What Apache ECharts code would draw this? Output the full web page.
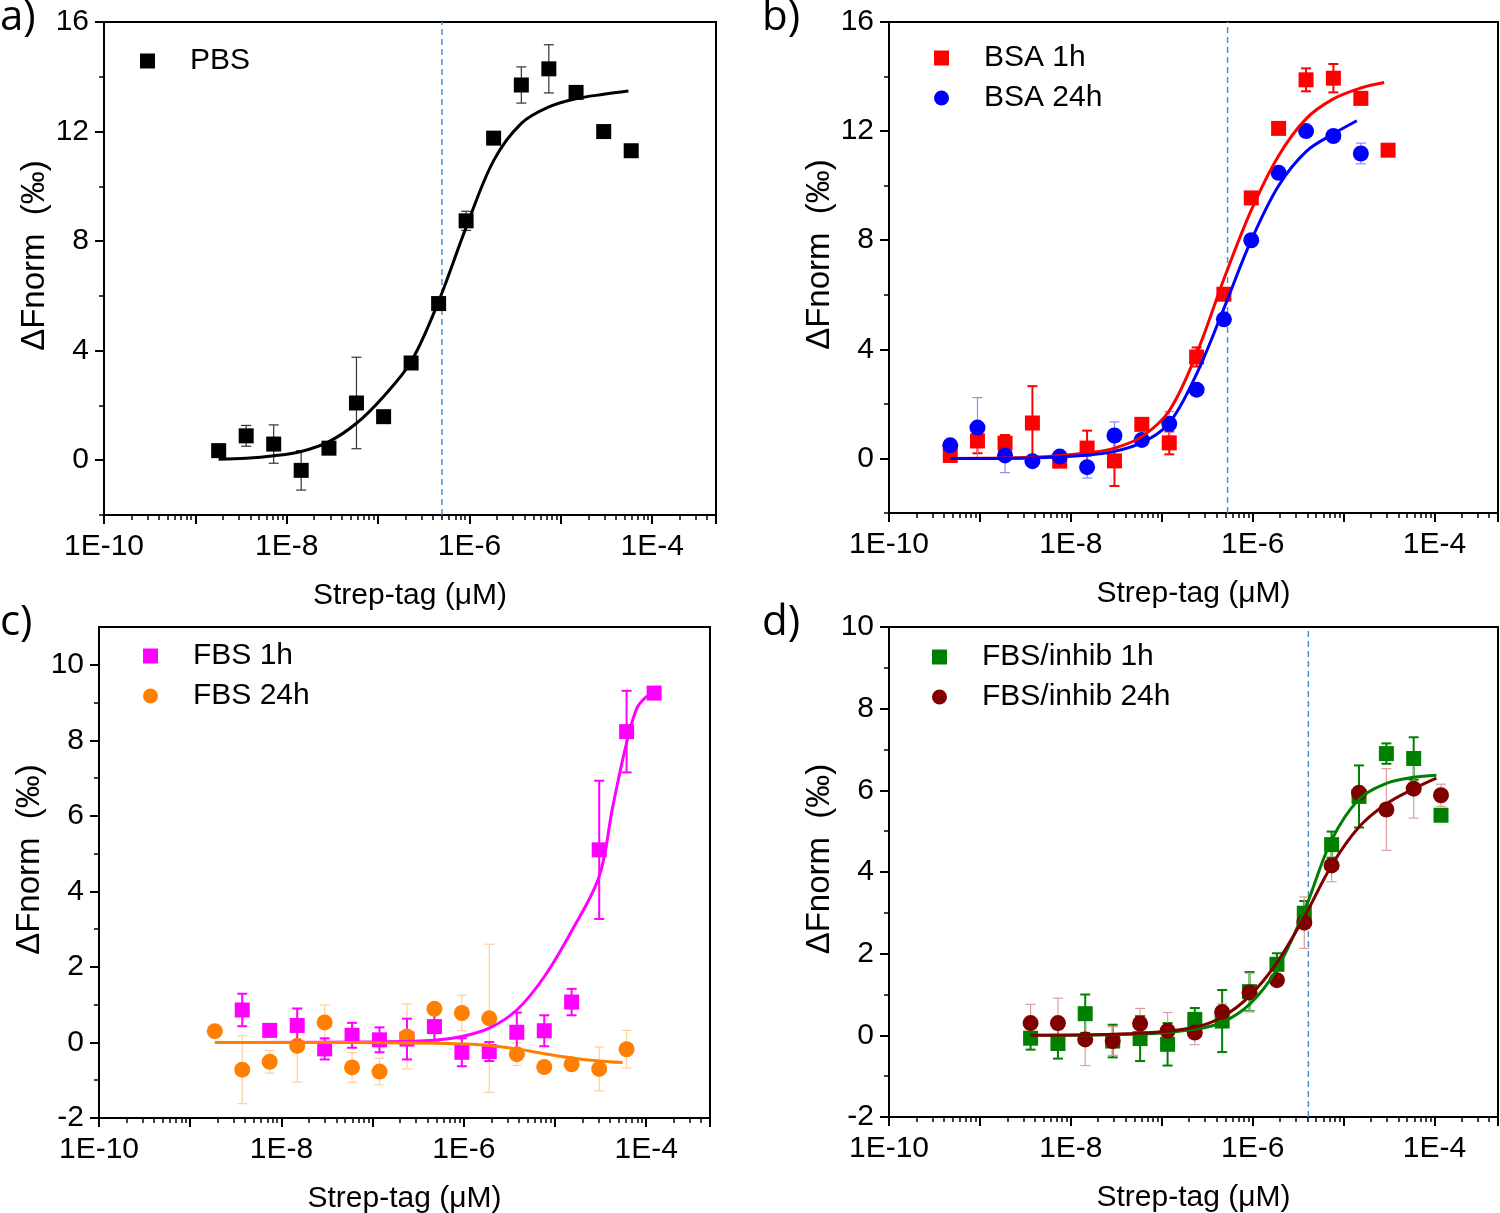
<!DOCTYPE html>
<html>
<head>
<meta charset="utf-8">
<script src="https://cdn.jsdelivr.net/npm/echarts@6/dist/echarts.min.js"></script>
<style>
  html, body { margin: 0; background: #fff; }
  #chart { width: 1500px; height: 1213px; }
</style>
</head>
<body>
<div id="chart"></div>
<script>
const FONT = 'Liberation Sans, Arial, sans-serif'

// shared tick labels
const xTickLabels = ['1E-10', '1E-8', '1E-6', '1E-4']
const yTicksAB = [0, 4, 8, 12, 16]
const yMinorAB = [-2, 2, 6, 10, 14]
const yTicksCD = [-2, 0, 2, 4, 6, 8, 10]
const yMinorCD = [-1, 1, 3, 5, 7, 9]

// a) PBS
const concA = [1.8e-9, 3.6e-9, 7.2e-9, 1.44e-8, 2.9e-8, 5.8e-8, 1.15e-7, 2.3e-7, 4.6e-7, 9.2e-7, 1.84e-6, 3.7e-6, 7.4e-6, 1.47e-5, 2.95e-5, 5.9e-5]
const pbs = [0.35, 0.89, 0.59, -0.37, 0.44, 2.09, 1.59, 3.55, 5.72, 8.74, 11.76, 13.7, 14.29, 13.43, 12.0, 11.3]
const pbsErr = [0.1, 0.38, 0.7, 0.72, 0.1, 1.67, 0.1, 0.1, 0.1, 0.35, 0.1, 0.66, 0.88, 0.1, 0.1, 0.1]
const fitAx = [1.8e-9, 3.6e-9, 7.2e-9, 1.44e-8, 2.9e-8, 5.8e-8, 1.15e-7, 2.3e-7, 4.6e-7, 9.2e-7, 1.84e-6, 3.7e-6, 7.4e-6, 1.47e-5, 2.95e-5, 5.5e-5]
const fitAy = [0.04, 0.07, 0.16, 0.32, 0.68, 1.35, 2.33, 3.6, 5.8, 8.5, 10.94, 12.3, 12.9, 13.2, 13.36, 13.48]
const dashA = 5e-7

// b) BSA
const concB = [4.72e-10, 9.4e-10, 1.89e-9, 3.78e-9, 7.55e-9, 1.51e-8, 3.02e-8, 6.04e-8, 1.21e-7, 2.42e-7, 4.83e-7, 9.66e-7, 1.93e-6, 3.87e-6, 7.73e-6, 1.55e-5, 3.09e-5]
const bsa1 = [0.11, 0.64, 0.56, 1.3, -0.1, 0.38, -0.09, 1.25, 0.57, 3.72, 6.02, 9.55, 12.1, 13.88, 13.94, 13.2, 11.3]
const bsa1Err = [0.1, 0.45, 0.3, 1.35, 0.15, 0.64, 0.92, 0.1, 0.42, 0.35, 0.1, 0.1, 0.15, 0.42, 0.52, 0.1, 0.1]
const bsa24 = [0.48, 1.13, 0.11, -0.1, 0.07, -0.32, 0.84, 0.68, 1.27, 2.52, 5.1, 8.0, 10.47, 12.0, 11.82, 11.18]
const bsa24Err = [0.1, 1.1, 0.63, 0.1, 0.1, 0.4, 0.5, 0.1, 0.45, 0.15, 0.1, 0.1, 0.1, 0.1, 0.1, 0.38]
const fitB1x = [4.72e-10, 3.78e-9, 1.51e-8, 3.02e-8, 6.04e-8, 1.21e-7, 2.42e-7, 4.83e-7, 9.66e-7, 1.93e-6, 3.87e-6, 7.73e-6, 1.55e-5, 2.8e-5]
const fitB1y = [0.0, 0.04, 0.2, 0.38, 0.8, 1.75, 3.85, 6.58, 9.1, 11.1, 12.45, 13.18, 13.58, 13.78]
const fitB24x = [4.72e-10, 3.78e-9, 1.51e-8, 3.02e-8, 6.04e-8, 1.21e-7, 2.42e-7, 4.83e-7, 9.66e-7, 1.93e-6, 3.87e-6, 7.73e-6, 1.4e-5]
const fitB24y = [0.0, 0.02, 0.12, 0.26, 0.58, 1.3, 3.1, 5.5, 8.0, 10.0, 11.25, 11.9, 12.38]
const dashB = 5.3e-7

// c) FBS
const concC1 = [3.72e-9, 7.44e-9, 1.49e-8, 2.98e-8, 5.95e-8, 1.19e-7, 2.38e-7, 4.76e-7, 9.52e-7, 1.9e-6, 3.81e-6, 7.62e-6, 1.52e-5, 3.05e-5, 6.09e-5, 1.22e-4]
const fbs1 = [0.86, 0.32, 0.45, -0.17, 0.19, 0.07, 0.09, 0.42, -0.26, -0.24, 0.27, 0.31, 1.07, 5.1, 8.23, 9.25]
const fbs1Err = [0.43, 0.15, 0.45, 0.28, 0.33, 0.33, 0.54, 0.37, 0.37, 0.25, 0.52, 0.41, 0.35, 1.83, 1.08, 0.15]
const concC24 = [1.86e-9, 3.72e-9, 7.44e-9, 1.49e-8, 2.98e-8, 5.95e-8, 1.19e-7, 2.38e-7, 4.76e-7, 9.52e-7, 1.9e-6, 3.81e-6, 7.62e-6, 1.52e-5, 3.05e-5, 6.09e-5]
const fbs24 = [0.3, -0.72, -0.51, -0.09, 0.53, -0.66, -0.77, 0.16, 0.89, 0.78, 0.64, -0.31, -0.65, -0.58, -0.7, -0.18]
const fbs24Err = [0.1, 0.9, 0.3, 0.96, 0.46, 0.39, 0.35, 0.86, 0.1, 0.47, 1.96, 0.3, 0.1, 0.1, 0.58, 0.5]
const fitC1x = [3.72e-9, 1.19e-7, 4.76e-7, 9.52e-7, 1.9e-6, 3.81e-6, 7.62e-6, 1.52e-5, 3.05e-5, 4.3e-5, 6.09e-5, 7.9e-5, 1.0e-4, 1.22e-4]
const fitC1y = [0.0, 0.02, 0.06, 0.16, 0.38, 0.86, 1.74, 2.95, 4.4, 6.25, 7.93, 8.85, 9.15, 9.25]
const fitC24x = [1.86e-9, 2.98e-8, 1.19e-7, 4.76e-7, 9.52e-7, 1.9e-6, 3.81e-6, 7.62e-6, 1.52e-5, 3.05e-5, 5.5e-5]
const fitC24y = [0.0, 0.0, -0.01, -0.02, -0.04, -0.08, -0.17, -0.3, -0.41, -0.49, -0.53]

// d) FBS/inhib
const concD = [3.61e-9, 7.22e-9, 1.44e-8, 2.89e-8, 5.78e-8, 1.16e-7, 2.31e-7, 4.62e-7, 9.24e-7, 1.85e-6, 3.7e-6, 7.39e-6, 1.48e-5, 2.96e-5, 5.91e-5, 1.18e-4]
const inh1 = [-0.07, -0.2, 0.53, -0.14, -0.08, -0.22, 0.39, 0.35, 1.07, 1.74, 2.99, 4.67, 5.85, 6.9, 6.78, 5.39]
const inh1Err = [0.28, 0.37, 0.47, 0.4, 0.55, 0.52, 0.28, 0.76, 0.48, 0.27, 0.3, 0.32, 0.76, 0.25, 0.52, 0.1]
const inh24 = [0.3, 0.3, -0.1, -0.14, 0.29, 0.11, 0.07, 0.57, 1.05, 1.35, 2.76, 4.16, 5.94, 5.53, 6.04, 5.88]
const inh24Err = [0.46, 0.61, 0.64, 0.35, 0.37, 0.45, 0.3, 0.2, 0.47, 0.1, 0.63, 0.4, 0.1, 1.0, 0.72, 0.27]
const fitDx = [3.61e-9, 5.78e-8, 2.31e-7, 4.62e-7, 9.24e-7, 1.85e-6, 3.7e-6, 7.39e-6, 1.48e-5, 2.96e-5, 5.91e-5, 1.05e-4]
const fitD1y = [0.0, 0.03, 0.15, 0.32, 0.76, 1.62, 3.05, 4.78, 5.78, 6.17, 6.32, 6.37]
const fitD24y = [0.0, 0.05, 0.2, 0.45, 0.96, 1.78, 2.9, 4.16, 5.1, 5.67, 6.04, 6.3]
const dashD = 4.1e-6

const X_MIN = 1e-10
const X_MAX = 5e-4

const grids = [
  { left: 104, top: 22, width: 612, height: 493 },
  { left: 889, top: 22, width: 609, height: 491 },
  { left: 99, top: 627, width: 611, height: 491 },
  { left: 889, top: 627, width: 609, height: 490 }
]
const yRanges = [[-2, 16], [-2, 16], [-2, 11], [-2, 10]]

// minor tick positions in log space (2..9 x each decade)
const minorX = []
for (let d = -10; d <= -4; d++) {
  for (let m = 2; m <= 9; m++) {
    const v = d + Math.log10(m)
    if (v < Math.log10(X_MAX) - 1e-6) minorX.push(v)
  }
}

const text = (size) => ({ fontFamily: FONT, fontSize: size, color: '#000' })

const xAxes = []
const yAxes = []
function addAxes(i, yMajor, yMinor) {
  const [yMin, yMax] = yRanges[i]
  xAxes.push({
    type: 'log', logBase: 10, gridIndex: i, position: 'bottom', min: X_MIN, max: X_MAX,
    name: 'Strep-tag (μM)', nameLocation: 'middle', nameGap: 66,
    nameTextStyle: text(30),
    axisLine: { onZero: false, lineStyle: { color: '#000', width: 2 } },
    axisTick: { length: 9, lineStyle: { color: '#000', width: 2 } },
    axisLabel: {
      ...text(30), margin: 17,
      formatter: (v) => {
        const e = Math.log10(v)
        const r = Math.round(e)
        if (Math.abs(e - r) > 1e-6) return ''
        const s = '1E' + r
        return xTickLabels.includes(s) ? s : ''
      }
    },
    splitLine: { show: false }, minorSplitLine: { show: false }
  })
  xAxes.push({
    type: 'value', gridIndex: i, position: 'bottom', min: Math.log10(X_MIN), max: Math.log10(X_MAX),
    axisLine: { show: false, onZero: false },
    axisTick: { show: true, customValues: minorX, length: 5, lineStyle: { color: '#000', width: 1.5 } },
    axisLabel: { show: false }, splitLine: { show: false }
  })
  yAxes.push({
    type: 'value', gridIndex: i, position: 'left', min: yMin, max: yMax,
    name: 'ΔFnorm  (‰)', nameLocation: 'middle', nameGap: 46, nameRotate: 90,
    nameTextStyle: { ...text(33), padding: [0, 0, 0, 26] },
    axisLine: { onZero: false, lineStyle: { color: '#000', width: 2 } },
    axisTick: { customValues: yMajor, length: 9, lineStyle: { color: '#000', width: 2 } },
    axisLabel: { ...text(30), customValues: yMajor, margin: 15 },
    splitLine: { show: false }
  })
  yAxes.push({
    type: 'value', gridIndex: i, position: 'left', min: yMin, max: yMax,
    axisLine: { show: false, onZero: false },
    axisTick: { customValues: yMinor, length: 5, lineStyle: { color: '#000', width: 1.5 } },
    axisLabel: { show: false }, splitLine: { show: false }
  })
}
addAxes(0, yTicksAB, yMinorAB)
addAxes(1, yTicksAB, yMinorAB)
addAxes(2, yTicksCD, yMinorCD)
addAxes(3, yTicksCD, yMinorCD)

const zip = (xs, ys) => xs.map((x, k) => [x, ys[k]])

const series = []
function errorBars(i, xs, ys, errs, color, width) {
  series.push({
    type: 'custom', xAxisIndex: 2 * i, yAxisIndex: 2 * i, z: 2, silent: true,
    data: xs.map((x, k) => [x, ys[k] - errs[k], ys[k] + errs[k]]),
    encode: { x: 0, y: [1, 2] },
    renderItem: (params, api) => {
      const top = api.coord([api.value(0), api.value(2)])
      const bot = api.coord([api.value(0), api.value(1)])
      const cap = 5
      const style = { stroke: color, lineWidth: width }
      return {
        type: 'group',
        children: [
          { type: 'line', shape: { x1: top[0], y1: top[1], x2: bot[0], y2: bot[1] }, style },
          { type: 'line', shape: { x1: top[0] - cap, y1: top[1], x2: top[0] + cap, y2: top[1] }, style },
          { type: 'line', shape: { x1: bot[0] - cap, y1: bot[1], x2: bot[0] + cap, y2: bot[1] }, style }
        ]
      }
    }
  })
}
function points(i, name, xs, ys, symbol, color) {
  series.push({
    type: 'scatter', name, xAxisIndex: 2 * i, yAxisIndex: 2 * i, z: 3,
    symbol, symbolSize: symbol === 'rect' ? 15 : 16,
    itemStyle: { color, opacity: 1 },
    data: zip(xs, ys)
  })
}
function fit(i, xs, ys, color) {
  series.push({
    type: 'line', xAxisIndex: 2 * i, yAxisIndex: 2 * i, z: 4,
    showSymbol: false, smooth: 0.35, silent: true,
    lineStyle: { color, width: 3 },
    data: zip(xs, ys)
  })
}
function guide(i, x) {
  series.push({
    type: 'line', xAxisIndex: 2 * i, yAxisIndex: 2 * i, z: 1,
    showSymbol: false, silent: true,
    lineStyle: { color: '#4a90d9', type: [6, 4], width: 1.5 },
    data: [[x, yRanges[i][0]], [x, yRanges[i][1]]]
  })
}

// a
guide(0, dashA)
errorBars(0, concA, pbs, pbsErr, '#333', 1.2)
points(0, 'PBS', concA, pbs, 'rect', '#000')
fit(0, fitAx, fitAy, '#000')
// b
guide(1, dashB)
errorBars(1, concB, bsa1, bsa1Err, '#ff0000', 2)
errorBars(1, concB.slice(0, bsa24.length), bsa24, bsa24Err, '#8c8cff', 1.2)
points(1, 'BSA 1h', concB, bsa1, 'rect', '#ff0000')
points(1, 'BSA 24h', concB.slice(0, bsa24.length), bsa24, 'circle', '#0000ff')
fit(1, fitB1x, fitB1y, '#ff0000')
fit(1, fitB24x, fitB24y, '#0000ff')
// c
errorBars(2, concC24, fbs24, fbs24Err, '#ffcf9e', 1.2)
errorBars(2, concC1, fbs1, fbs1Err, '#ff00ff', 2)
points(2, 'FBS 1h', concC1, fbs1, 'rect', '#ff00ff')
points(2, 'FBS 24h', concC24, fbs24, 'circle', '#ff8000')
fit(2, fitC1x, fitC1y, '#ff00ff')
fit(2, fitC24x, fitC24y, '#ff8000')
// d
guide(3, dashD)
errorBars(3, concD, inh1, inh1Err, '#008000', 2)
errorBars(3, concD, inh24, inh24Err, '#d9a0a0', 1.2)
points(3, 'FBS/inhib 1h', concD, inh1, 'rect', '#008000')
points(3, 'FBS/inhib 24h', concD, inh24, 'circle', '#800000')
fit(3, fitDx, fitD1y, '#008000')
fit(3, fitDx, fitD24y, '#800000')

const legendBase = {
  orient: 'vertical', itemWidth: 15, itemHeight: 15, itemGap: 6,
  textStyle: { ...text(30), lineHeight: 34, padding: [0, 0, 0, 30] },
  selectedMode: false
}
const legends = [
  { ...legendBase, left: 135, top: 39, data: ['PBS'] },
  { ...legendBase, left: 929, top: 36, data: ['BSA 1h', 'BSA 24h'] },
  { ...legendBase, left: 138, top: 634, data: ['FBS 1h', 'FBS 24h'] },
  { ...legendBase, left: 927, top: 635, data: ['FBS/inhib 1h', 'FBS/inhib 24h'] }
]

const panelLabel = (t, left, top) => ({
  text: t, left, top, padding: 0,
  textStyle: { fontFamily: 'Open Sans, sans-serif', fontSize: 42, fontWeight: 'normal', color: '#000' }
})

const chart = echarts.init(document.getElementById('chart'), null, { renderer: 'canvas' })
chart.setOption({
  animation: false,
  backgroundColor: '#fff',
  title: [panelLabel('a)', 0, -3), panelLabel('b)', 762, -3), panelLabel('c)', 0, 602), panelLabel('d)', 762, 602)],
  grid: grids.map((g) => ({ ...g, show: true, borderColor: '#000', borderWidth: 2, backgroundColor: 'transparent', outerBoundsMode: 'none' })),
  legend: legends,
  xAxis: xAxes,
  yAxis: yAxes,
  series
})
</script>
</body>
</html>
